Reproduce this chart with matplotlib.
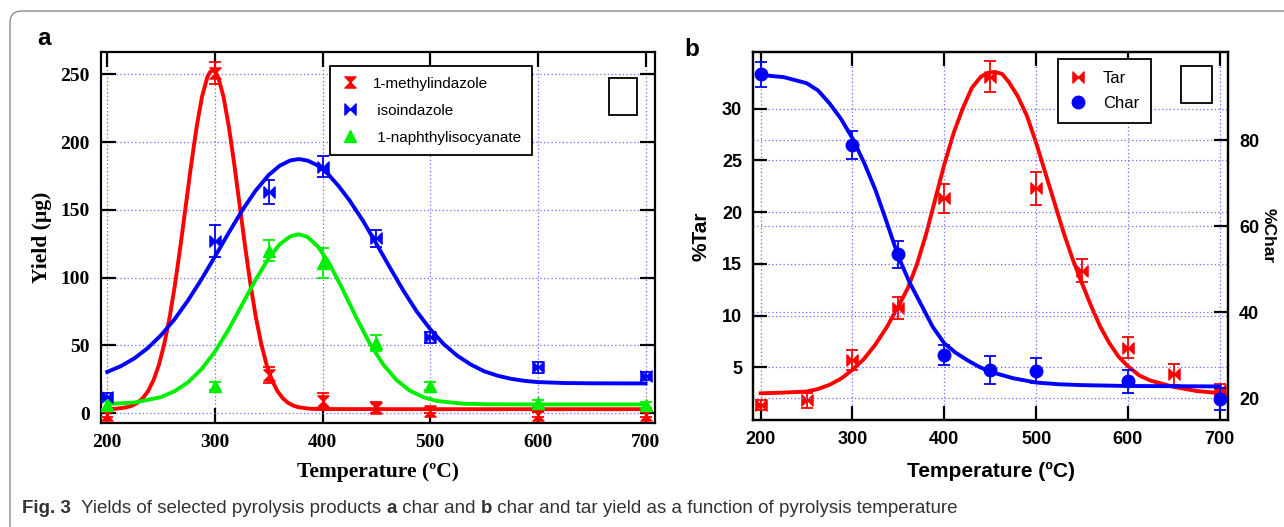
import matplotlib
matplotlib.use("Agg")
import matplotlib.pyplot as plt
from matplotlib.path import Path
from matplotlib.lines import Line2D
from matplotlib.patches import FancyBboxPatch, Rectangle
from matplotlib import font_manager

# ---- panel a: yields of selected products (ug) ----
temp_a = [200, 300, 350, 400, 450, 500, 600, 700]
methyl = [-1, 251, 28, 9, 4, 2, -1, -1]
methyl_err = [2, 8, 6, 6, 4, 2, 2, 2]
iso = [12, 127, 163, 182, 129, 56, 34, 27.5]
iso_err = [3, 12, 9, 8, 6, 4, 4, 3]
naph = [6, 20, 120, 111, 52, 20, 7.5, 6]
naph_err = [3, 3, 8, 11, 6, 3, 2, 2]

# fitted curves, values
methyl_fit_t = [200, 208, 218, 223, 228, 233, 238, 243, 248, 253, 258, 263, 268,
                273, 278, 283, 288, 293, 295.5, 298, 300.5, 303, 308, 313, 318,
                323, 328, 333, 338, 343, 348, 353, 358, 363, 368, 373, 378, 388,
                398, 500, 600, 700]
methyl_fit = [3.1, 3.35, 4.4, 5.6, 7.65, 11.1, 16.4, 24.4, 35.7, 51.2, 71, 95.3,
              123.3, 153.4, 183.6, 211, 233.5, 248, 251.7, 253, 251.7, 248, 233.5,
              211, 183.6, 153.4, 123.3, 95.3, 71, 51.2, 35.7, 24.4, 16.4, 11.1,
              7.65, 5.6, 4.4, 3.35, 3.1, 3, 3, 3]
iso_fit_t = [200, 212.5, 225, 237.5, 250, 262.5, 275, 287.5, 300, 312.5, 325,
             337.5, 350, 360, 370, 378, 386, 395, 405, 415, 425, 437.5, 450,
             462.5, 475, 487.5, 500, 512.5, 525, 537.5, 550, 562.5, 575, 587.5,
             600, 625, 650, 700]
iso_fit = [30.5, 34.7, 40.4, 48, 57.6, 69.3, 83.2, 98.8, 115.5, 132.7, 149.2,
           163.9, 175.8, 182.5, 186.5, 187.5, 186.4, 183, 176.5, 167.5, 157, 142,
           125, 107.5, 90.5, 75, 62, 51, 42.5, 36, 31, 27.7, 25.4, 23.9,
           23, 22.3, 22.1, 22]
naph_fit_t = [200, 225, 250, 262.5, 275, 287.5, 300, 312.5, 325, 337.5, 350,
              360, 370, 378, 386, 396, 406, 418.5, 431, 443.5, 456, 468.5, 481,
              493.5, 506, 531, 556, 600, 700]
naph_fit = [6.8, 7.9, 11.9, 16.2, 22.8, 32.5, 45.4, 61.5, 79.7, 98.1, 114.4,
            124.5, 130.5, 132, 130.1, 122.7, 110.8, 91.7, 71.1, 52, 36.3, 24.6,
            16.7, 11.9, 9.1, 7, 6.6, 6.5, 6.5]

# ---- panel b: tar (%) and char (%) ----
temp_tar = [200, 250, 300, 350, 400, 450, 500, 550, 600, 650, 700]
tar = [1.35, 1.8, 5.7, 10.7, 21.35, 33.1, 22.3, 14.35, 6.9, 4.3, 2.8]
tar_err = [0.5, 0.7, 0.95, 1.05, 1.4, 1.5, 1.6, 1.1, 1.05, 1.0, 0.6]
temp_char = [200, 300, 350, 400, 450, 500, 600, 700]
char = [95.25, 78.8, 53.5, 30.1, 26.6, 26.4, 24.0, 19.9]
char_err = [2.9, 3.3, 3.1, 2.3, 3.2, 2.9, 2.7, 2.5]

tar_fit_t = [200, 225, 250, 262.5, 275, 287.5, 300, 312.5, 325, 337.5, 350, 360,
             370, 380, 390, 400, 410, 420, 430, 440, 447, 455, 463, 470, 480, 490,
             500, 510, 520, 530, 540, 550, 560, 570, 580, 590, 600, 612.5, 625,
             650, 675, 700]
tar_fit = [2.48, 2.55, 2.65, 2.9, 3.3, 3.9, 4.75, 5.8, 7.2, 8.9, 10.9, 12.6,
           14.9, 17.8, 21.2, 24.6, 27.6, 30, 32, 33.1, 33.45, 33.55, 33.35, 32.6,
           31.2, 29.3, 26.7, 23.8, 20.9, 18, 15.4, 13.1, 10.9, 8.9, 7.3, 6.0,
           5.1, 4.2, 3.7, 3.1, 2.7, 2.5]
char_fit_t = [200, 225, 250, 262.5, 275, 287.5, 300, 312.5, 325, 337.5, 350,
              362.5, 375, 387.5, 400, 412.5, 425, 437.5, 450, 475, 500, 525, 550,
              600, 700]
char_fit = [95.1, 94.6, 93.2, 91.5, 88.5, 84.9, 80.4, 74.8, 68.4, 60.8, 52.9,
            46.8, 41.7, 36.6, 32.8, 30.6, 28.9, 27.4, 26.2, 24.7, 23.7, 23.3, 23.1,
            22.9, 22.8]

RED, BLUE, GREEN = "#ff0000", "#0000ff", "#00ee00"
GRID = "#6b6bff"


def pick_font(names):
    for n in names:
        try:
            font_manager.findfont(n, fallback_to_default=False)
            return n
        except Exception:
            pass
    return "DejaVu Sans"


SERIF = pick_font(["Liberation Serif", "DejaVu Serif"])
SANS = pick_font(["Liberation Sans", "DejaVu Sans"])

hourglass = Path([(-1, 1), (1, 1), (-1, -1), (1, -1), (-1, 1)],
                 [Path.MOVETO, Path.LINETO, Path.LINETO, Path.LINETO, Path.CLOSEPOLY])
bowtie = Path([(-1, 1), (-1, -1), (1, 1), (1, -1), (-1, 1)],
              [Path.MOVETO, Path.LINETO, Path.LINETO, Path.LINETO, Path.CLOSEPOLY])


def style_axes(ax, font, size, length):
    for s in ax.spines.values():
        s.set_linewidth(1.6)
    ax.tick_params(direction="in", length=length, width=1.6, top=True,
                   labelsize=size, pad=8)
    for lab in ax.get_xticklabels() + ax.get_yticklabels():
        lab.set_fontfamily(font)
        lab.set_fontweight("bold")
    ax.grid(True, color=GRID, linestyle=(0, (1, 2)), linewidth=0.9)
    ax.set_axisbelow(True)


def points(ax, x, y, err, marker, color, ms):
    ax.errorbar(x, y, yerr=err, fmt="none", ecolor=color, elinewidth=1.3,
                capsize=4, capthick=1.3, zorder=4)
    ax.plot(x, y, linestyle="none", marker=marker, color=color, ms=ms, zorder=5)


fig = plt.figure(figsize=(12.84, 5.27), dpi=100)

# rounded frame round the figure
fig.patches.append(FancyBboxPatch((10, -40), 1320, 556,
                                  boxstyle="round,pad=0,rounding_size=12",
                                  transform=None, facecolor="none",
                                  edgecolor="#8c8c8c", linewidth=1.0, figure=fig))

# ---------- panel a ----------
axa = fig.add_axes([0.0784, 0.1973, 0.4318, 0.7046])
axa.plot(methyl_fit_t, methyl_fit, color=RED, lw=2.8, zorder=3)
axa.plot(iso_fit_t, iso_fit, color=BLUE, lw=2.8, zorder=3)
axa.plot(naph_fit_t, naph_fit, color=GREEN, lw=2.8, zorder=3)
points(axa, temp_a, methyl, methyl_err, hourglass, RED, 8)
points(axa, temp_a, iso, iso_err, bowtie, BLUE, 8)
points(axa, temp_a, naph, naph_err, "^", GREEN, 8)
axa.set_xlim(193.9, 708.8)
axa.set_ylim(-7.2, 266.7)
axa.set_xticks([200, 300, 400, 500, 600, 700])
axa.set_yticks([0, 50, 100, 150, 200, 250])
axa.tick_params(right=True)
style_axes(axa, SERIF, 14, 11)
axa.set_xlabel("Temperature (ºC)", fontfamily=SERIF, fontweight="bold",
               fontsize=15.5, labelpad=8)
axa.set_ylabel("Yield (µg)", fontfamily=SERIF, fontweight="bold",
               fontsize=15.5, labelpad=6)
handles_a = [Line2D([], [], ls="none", marker=hourglass, color=RED, ms=8),
             Line2D([], [], ls="none", marker=bowtie, color=BLUE, ms=8),
             Line2D([], [], ls="none", marker="^", color=GREEN, ms=8)]
leg = axa.legend(handles_a, ["1-methylindazole", " isoindazole", " 1-naphthylisocyanate"],
                 loc="upper left", bbox_to_anchor=(0.4137, 0.9615), borderaxespad=0,
                 fancybox=False, framealpha=1, edgecolor="black",
                 prop={"family": SANS, "size": 11}, handlelength=1.2,
                 handletextpad=0.9, labelspacing=0.85, borderpad=0.7)
leg.get_frame().set_linewidth(1.3)
leg.set_zorder(6)
axa.add_patch(Rectangle((0.917, 0.83), 0.051, 0.1, transform=axa.transAxes,
                        facecolor="white", edgecolor="black", lw=1.3, zorder=6))
fig.text(37 / 1284, 1 - 45 / 527, "a", fontfamily=SANS, fontweight="bold",
         fontsize=17.5, va="baseline")

# ---------- panel b ----------
axb = fig.add_axes([0.5867, 0.2030, 0.3697, 0.6989])
axc = axb.twinx()
axb.plot(tar_fit_t, tar_fit, color=RED, lw=2.8, zorder=3)
axc.plot(char_fit_t, char_fit, color=BLUE, lw=2.8, zorder=3)
points(axb, temp_tar, tar, tar_err, bowtie, RED, 8)
points(axc, temp_char, char, char_err, "o", BLUE, 9)
axb.set_xlim(192, 709)
axb.set_ylim(-0.1, 35.5)
axc.set_ylim(15, 100.5)
axb.set_xticks([200, 300, 400, 500, 600, 700])
axb.set_yticks([5, 10, 15, 20, 25, 30])
axc.set_yticks([20, 40, 60, 80])
style_axes(axb, SANS, 13, 10)
axb.tick_params(right=False)
style_axes(axc, SANS, 13, 10)
axc.tick_params(top=False)
axb.set_xlabel("Temperature (ºC)", fontfamily=SANS, fontweight="bold",
               fontsize=15, labelpad=10)
axb.set_ylabel("%Tar", fontfamily=SANS, fontweight="bold", fontsize=15, labelpad=8)
axc.set_ylabel("%Char", fontfamily=SANS, fontweight="bold", fontsize=12.5,
               rotation=270, labelpad=12)
handles_b = [Line2D([], [], ls="none", marker=bowtie, color=RED, ms=8),
             Line2D([], [], ls="none", marker="o", color=BLUE, ms=9)]
legb = axc.legend(handles_b, ["Tar", "Char"], loc="upper left",
                  bbox_to_anchor=(0.642, 0.979), borderaxespad=0, fancybox=False,
                  framealpha=1, edgecolor="black", prop={"family": SANS, "size": 12},
                  handlelength=1.0, handletextpad=1.0, labelspacing=0.6, borderpad=0.7)
legb.get_frame().set_linewidth(1.3)
axc.add_patch(Rectangle((0.901, 0.86), 0.066, 0.1, transform=axc.transAxes,
                        facecolor="white", edgecolor="black", lw=1.3, zorder=6))
fig.text(684 / 1284, 1 - 56 / 527, "b", fontfamily=SANS, fontweight="bold",
         fontsize=17.5, va="baseline")

# ---------- caption, drawn piece by piece ----------
pieces = [("Fig. 3", "bold"), ("  Yields of selected pyrolysis products ", "normal"),
          ("a", "bold"), (" char and ", "normal"), ("b", "bold"),
          (" char and tar yield as a function of pyrolysis temperature", "normal")]
renderer = fig.canvas.get_renderer()
x = 22
for txt, weight in pieces:
    t = fig.text(x / 1284, 1 - 513 / 527, txt, fontfamily=SANS, fontweight=weight,
                 fontsize=13.5, color="#333333", va="baseline")
    x += t.get_window_extent(renderer).width

fig.savefig("out.png", dpi=100)
